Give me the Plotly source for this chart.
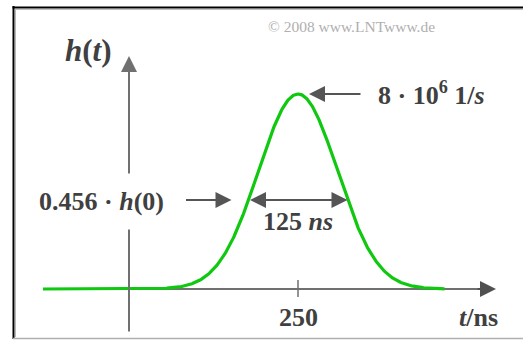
import numpy as np
import plotly.graph_objects as go

# Gaussian impulse response h(t) = h0 * exp(-pi * ((t - T) / dt)^2)
h0 = 8.0          # peak value in 10^6 1/s
T_center = 250.0  # ns
dt = 125.0        # equivalent width in ns
level = 0.456     # exp(-pi/4), height where the width equals dt
t_start, t_end = -72.0, 435.0
t_axis_end = 500.0
tick_vals = [250]
tick_text = ["250"]

W, H = 523, 340
FONT = "Liberation Serif"
TXT = "#404040"
AX = "#707070"


def px(x):
    return x / W


def py(y):
    return 1 - y / H


t = np.linspace(t_start, t_end, 600)
h = h0 * np.exp(-np.pi * ((t - T_center) / dt) ** 2)

fig = go.Figure()
fig.add_trace(go.Scatter(x=t, y=h, mode="lines",
                         line=dict(color="#10c810", width=3.2),
                         hoverinfo="skip", showlegend=False))

y_lvl = level * h0

shapes = [
    # horizontal axis line (under the curve)
    dict(type="line", xref="x", yref="y", x0=t_start, x1=t_axis_end - 12,
         y0=0, y1=0, line=dict(color=AX, width=2), layer="below"),
    # frame
    dict(type="line", xref="paper", yref="paper", x0=px(13.5), x1=px(13.5),
         y0=py(6), y1=py(339), line=dict(color="#000000", width=2)),
    dict(type="line", xref="paper", yref="paper", x0=px(15.5), x1=px(15.5),
         y0=py(9), y1=py(337), line=dict(color="#b8b8b8", width=1)),
    dict(type="line", xref="paper", yref="paper", x0=px(12.5), x1=1,
         y0=py(7.5), y1=py(7.5), line=dict(color="#000000", width=2)),
    dict(type="line", xref="paper", yref="paper", x0=px(15), x1=1,
         y0=py(9.5), y1=py(9.5), line=dict(color="#c0c0c0", width=1)),
    dict(type="line", xref="paper", yref="paper", x0=px(13), x1=1,
         y0=py(338.5), y1=py(338.5), line=dict(color="#b0b0b0", width=1.5)),
]
for tv in tick_vals:
    shapes.append(dict(type="line", xref="x", yref="y", ysizemode="pixel",
                       yanchor=0, x0=tv, x1=tv, y0=-8, y1=9,
                       line=dict(color=AX, width=1.5)))

head = dict(showarrow=True, arrowhead=2, arrowsize=1.6, arrowwidth=2,
            text="")

annotations = [
    # vertical axis with arrow
    dict(xref="paper", yref="paper", x=px(129), y=py(56), ax=0, ay=277,
         arrowcolor=AX, **head),
    # arrow tip of the horizontal axis
    dict(xref="x", yref="y", x=t_axis_end, y=0, axref="x", ayref="y",
         ax=t_axis_end - 25, ay=0, arrowcolor="#505050", **head),
    # double arrow marking the width dt
    dict(xref="x", yref="y", x=T_center + dt / 2, y=y_lvl, axref="x",
         ayref="y", ax=T_center - dt / 2, ay=y_lvl, arrowside="end+start",
         arrowcolor="#555555", **head),
    # pointer to the 0.456 level
    dict(xref="x", yref="y", x=T_center - dt / 2, y=y_lvl, ax=-64, ay=0,
         standoff=17, arrowcolor="#555555", **head),
    # pointer to the peak
    dict(xref="x", yref="y", x=T_center, y=h0, ax=64, ay=0, standoff=11,
         arrowcolor="#555555", **head),
]

labels = [
    dict(xref="paper", yref="paper", x=px(101.5), y=py(201),
         text="<b>0.456 · <i>h</i>(0)</b>", bgcolor="white", borderpad=13,
         font=dict(family=FONT, size=26, color=TXT)),
    dict(xref="x", yref="y", x=T_center, y=y_lvl, yshift=-21,
         text="<b>125 <i>ns</i></b>",
         font=dict(family=FONT, size=26, color=TXT)),
    dict(xref="paper", yref="y", x=px(376), y=h0, yshift=1, xanchor="left",
         text="<b>8 · 10<sup>6</sup> 1/<i>s</i></b>",
         font=dict(family=FONT, size=26, color=TXT)),
    dict(xref="paper", yref="paper", x=px(88), y=py(50),
         text="<b><i>h</i>(<i>t</i>)</b>",
         font=dict(family=FONT, size=31, color=TXT)),
    dict(xref="paper", yref="paper", x=px(478), y=py(317),
         text="<b><i>t</i>/ns</b>",
         font=dict(family=FONT, size=26, color=TXT)),
    dict(xref="paper", yref="paper", x=px(351), y=py(27),
         text="© 2008 www.LNTwww.de",
         font=dict(family=FONT, size=15.5, color="#b0b0b0")),
]
for tv, tt in zip(tick_vals, tick_text):
    labels.append(dict(xref="x", yref="y", x=tv, y=0, yshift=-28,
                       text=f"<b>{tt}</b>",
                       font=dict(family=FONT, size=26, color=TXT)))
for lab in labels:
    lab.setdefault("xanchor", "center")
    lab.setdefault("yanchor", "middle")
    lab["showarrow"] = False
    annotations.append(lab)

# pixel mapping: t=0 at x=100 px, 0.792 px/ns; h=0 at y=289 px, 24.375 px per unit
x_range = [(0 - 100) / 0.792, (W - 100) / 0.792]
y_range = [(289 - H) / 24.375, 289 / 24.375]

fig.update_layout(
    width=W, height=H,
    margin=dict(l=0, r=0, t=0, b=0),
    paper_bgcolor="white", plot_bgcolor="white",
    xaxis=dict(range=x_range, visible=False, fixedrange=True),
    yaxis=dict(range=y_range, visible=False, fixedrange=True),
    shapes=shapes, annotations=annotations,
    showlegend=False,
)

fig.write_html("out.html", config={"displayModeBar": False})
